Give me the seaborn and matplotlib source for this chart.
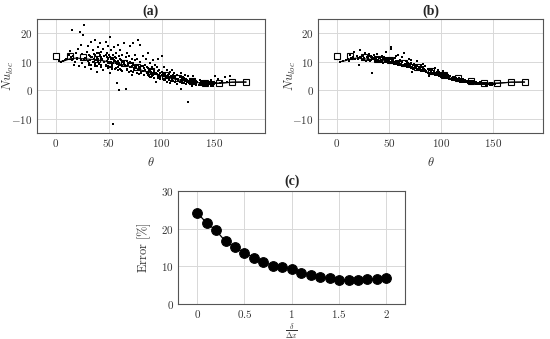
import matplotlib
matplotlib.use("Agg")
import matplotlib.pyplot as plt
import seaborn as sns
import pandas as pd
from matplotlib.ticker import FuncFormatter

# ---- data ----
# panel (a): scattered local Nusselt number
theta_a = [3, 5, 7, 9, 10, 12, 13, 14, 15, 15, 16, 17, 18, 19, 20, 21, 22, 23, 24, 25, 25, 26, 27, 27, 28, 29, 30, 30,
           31, 32, 33, 33, 34, 35, 35, 36, 37, 37, 38, 39, 39, 40, 40, 41, 42, 42, 43, 43, 44, 45, 45, 46, 47, 47, 48,
           48, 49, 49, 50, 50, 51, 51, 52, 52, 53, 53, 54, 54, 55, 55, 56, 56, 57, 57, 58, 58, 59, 59, 60, 60, 60, 61,
           62, 62, 63, 63, 64, 64, 65, 66, 66, 67, 67, 68, 69, 69, 70, 70, 71, 72, 72, 73, 73, 74, 75, 75, 76, 77, 77,
           78, 78, 79, 80, 80, 81, 82, 82, 83, 84, 84, 85, 86, 86, 87, 88, 88, 89, 90, 90, 91, 92, 92, 93, 94, 95, 95,
           96, 97, 97, 98, 99, 100, 100, 101, 102, 102, 103, 104, 105, 105, 106, 107, 108, 108, 109, 110, 110, 111, 112,
           113, 113, 114, 115, 115, 116, 117, 118, 118, 119, 120, 120, 121, 122, 123, 123, 124, 125, 125, 126, 127, 128,
           129, 130, 130, 131, 132, 133, 134, 135, 136, 137, 138, 139, 140, 141, 142, 143, 144, 145, 146, 147, 148, 149,
           150, 151, 152, 153, 155, 157, 160, 162, 165,
           20, 24, 28, 32, 36, 40, 44, 46, 48, 52, 54, 56, 58, 60, 62, 64, 66, 68, 70, 72, 74, 76, 78, 80, 82, 84,
           86, 88, 90, 92, 94, 96, 98, 100, 102, 104, 106, 108, 110, 112, 114, 116, 118, 120, 122, 124, 126, 128,
           130, 132, 134, 136, 138, 140, 142, 144, 146, 148, 150]
nu_a = [10.2, 10, 10.3, 10.5, 11, 12.5, 13.8, 11.5, 21, 10.5, 12, 9, 10, 13, 11.2, 14.5, 8.5, 20.5, 16, 12.8, 9.5, 19.5,
        23, 11, 8, 13.5, 10.2, 15.5, 9, 12, 17, 7.5, 11.5, 14, 9.8, 12.8, 17.5, 8.6, 10.5, 13, 6.5, 15, 11, 9.5, 12.2,
        16.5, 8, 13.5, 10.8, 14.5, 7, 12, 9, 17, 11.5, 13, 8.5, 15.5, 10, 12.5, 18.8, 6, 11, 14, 9, 8, 12.5, -12, 10.5,
        15, 7.5, 11.5, 13, 9.5, 2.5, 10, 16, 8, 0.2, 12, 9, 14, 10.5, 7, 12.5, 8.5, 16.5, 10, 9, 0.5, 11.5, 7.5, 13,
        9.5, 12, 6.5, 10, 15.5, 8, 11, 5.5, 9.5, 16.5, 7, 10.5, 12.5, 8.5, 6, 11, 9, 17.5, 7.5, 16, 10, 6.5, 8.5, 12,
        5.5, 9, 7, 11, 6, 8, 13, 5, 7.5, 9.5, 6.5, 4.5, 8, 10.5, 5.5, 7, 9, 3, 6, 8, 5, 11, 7, 4.5, 6.5, 12, 5.5, 8,
        3.5, 6, 4.5, 7, 3, 5.5, 4, 6.5, 2.5, 5, 3.5, 7, 4.5, 6, 3, 5, 4, 2, 5.5, 3.5, 4.5, 0.5, 6, 3, 4.5, 2.5, 3.5,
        5.5, 2, 4, 3, -4, 5, 2.5, 4, 3, 1.5, 3.5, 5, 2.5, 4, 2, 3, 1.8, 3.5, 2.5, 2, 3.2, 2.2, 1.5, 3, 2.5, 1.8, 2.8,
        2, 3.5, 2.2, 1.6, 2.8, 5, 2.4, 3.8, 2.5, 3, 4.5, 2.8, 5,
        11, 10.5, 11.2, 10.6, 10.9, 10.2, 10.6, 9.8, 10.3, 9.9, 9.4, 10.1, 9.2, 9.6, 8.9, 9.3, 8.5, 8.8, 8.1, 8.4,
        7.7, 7.9, 7.2, 7.4, 6.8, 7.0, 6.4, 6.6, 6.0, 6.2, 5.6, 5.8, 5.3, 5.4, 4.9, 5.0, 4.6, 4.7, 4.2, 4.3, 3.9,
        4.0, 3.6, 3.7, 3.3, 3.4, 3.1, 3.1, 2.9, 2.8, 2.7, 2.6, 2.5, 2.4, 2.3, 2.2, 2.2, 2.1, 2.3]

# extra points filling the dense band (same theta for upper and lower edge)
theta_band = [31, 33, 37, 39, 41, 43, 47, 49, 51, 53, 57, 59, 61, 63, 67, 69, 71, 73, 77, 79, 81, 83, 87, 89, 91, 93,
              97, 99, 101, 103, 107, 109, 111, 113, 117, 119, 121, 123, 127, 129, 131, 133, 137, 139, 141, 143, 147, 149]
nu_a_hi = [12.3, 11.6, 12.4, 11.2, 12.9, 11.5, 12.2, 11.0, 11.8, 10.9, 11.3, 10.4, 10.8, 9.9, 10.1, 9.4, 9.6, 9.0,
           8.9, 8.3, 8.4, 7.9, 7.8, 7.2, 7.3, 6.8, 6.6, 6.1, 6.2, 5.7, 5.6, 5.1, 5.3, 4.8, 4.7, 4.3, 4.4, 4.0, 3.9,
           3.6, 3.7, 3.3, 3.3, 3.0, 3.1, 2.9, 2.9, 2.7]
nu_a_lo = [9.4, 8.9, 9.2, 8.4, 9.3, 8.7, 8.6, 7.9, 8.3, 7.6, 7.8, 7.2, 7.5, 6.9, 7.0, 6.5, 6.8, 6.3, 6.1, 5.7, 5.9,
           5.3, 5.2, 4.8, 4.9, 4.4, 4.3, 4.0, 3.9, 3.6, 3.5, 3.2, 3.1, 2.9, 2.8, 2.6, 2.5, 2.3, 2.2, 2.1, 2.0, 1.9,
           1.8, 1.7, 1.7, 1.6, 1.6, 1.5]

# panel (b): tighter band
theta_b = [3, 6, 9, 11, 13, 14, 16, 17, 18, 19, 20, 21, 22, 23, 24, 25, 26, 27, 28, 29, 30, 31, 32, 33, 34, 35, 36, 37,
           38, 39, 40, 41, 42, 43, 44, 45, 46, 47, 48, 49, 50, 51, 52, 53, 54, 55, 56, 57, 58, 59, 60, 61, 62, 63, 64,
           65, 66, 67, 68, 69, 70, 71, 72, 73, 74, 75, 76, 77, 78, 79, 80, 81, 82, 83, 84, 85, 86, 87, 88, 89, 90, 91,
           92, 93, 94, 95, 96, 97, 98, 99, 100, 101, 102, 103, 104, 105, 106, 107, 108, 109, 110, 111, 112, 113, 114,
           115, 116, 117, 118, 119, 120, 121, 122, 123, 124, 125, 126, 127, 128, 129, 130, 131, 132, 133, 134, 135, 136,
           137, 138, 139, 140, 141, 142, 143, 144, 145, 146, 147, 148, 149, 150, 152,
           12, 15, 20, 22, 26, 30, 34, 34, 38, 42, 46, 48, 50, 52, 52, 54, 56, 58, 60, 62, 64, 66, 68, 70, 72, 74,
           76, 78, 80, 82, 84, 86, 88, 90, 92, 94, 96, 98, 100, 102, 104, 106, 108, 110, 112, 114, 116, 118, 120,
           122, 124, 126, 128, 130, 132, 134, 136, 138, 140, 142, 144, 146, 148,
           25, 35, 45, 55, 65, 75, 85, 95, 105, 115, 44, 57, 63, 71, 83, 97]
nu_b = [10, 10.3, 10.6, 11, 12.5, 11.2, 11.5, 13.5, 10.8, 12, 11.3, 9, 14, 11.8, 10.5, 12.5, 11, 13.2, 10.2, 11.8, 11.4,
        12.6, 10.4, 11.6, 6, 11, 12.2, 10.3, 11.5, 12.8, 10.6, 11.2, 9.8, 12, 10.9, 11.5, 10, 13.5, 10.7, 11.3, 9.6,
        11, 15, 10.2, 10.8, 9.3, 11.4, 10.1, 9.7, 12.2, 9.4, 10.5, 8.8, 9.9, 13, 9.2, 10.1, 8.5, 9.4, 11, 8.9, 9.6,
        6.5, 8.7, 9.3, 7.9, 8.6, 10.4, 7.5, 8.3, 7.8, 9, 7, 8.1, 7.4, 8.4, 6.8, 7.6, 5, 7.1, 6.5, 7.3, 6.2, 6.8, 7.9,
        5.9, 6.4, 5.6, 6.3, 5.3, 6, 5.5, 6.6, 4.9, 5.4, 5.7, 4.6, 5.1, 4.4, 4.9, 4.1, 4.6, 4.3, 3.9, 4.2, 3.6, 4,
        3.5, 3.7, 3.3, 3.6, 3.1, 3.4, 3, 3.2, 2.8, 3.1, 2.9, 2.7, 3, 2.6, 2.8, 2.5, 2.7, 2.4, 2.6, 2.5, 2.3, 2.6, 2.2,
        2.4, 2.5, 2.1, 2.3, 2.4, 2.0, 2.3, 2.2, 1.9, 2.4, 2.1, 2.3,
        10.4, 11.2, 10.9, 11.6, 11.3, 10.8, 11.5, 10.9, 11.1, 10.6, 10.5, 10.2, 10.4, 14.5, 10.0, 10.1, 9.8, 9.6, 9.5,
        9.2, 9.0, 8.8, 8.6, 8.4, 8.1, 7.9, 7.7, 7.4, 7.2, 6.9, 6.7, 6.4, 6.2, 5.9, 5.7, 5.4, 5.2, 5.0, 4.7, 4.5,
        4.3, 4.1, 3.9, 3.7, 3.5, 3.4, 3.2, 3.0, 2.9, 2.8, 2.7, 2.6, 2.5, 2.4, 2.4, 2.3, 2.3, 2.2, 2.2, 2.2, 2.2, 2.2,
        2.3,
        11.9, 11.4, 10.8, 10.0, 9.1, 8.2, 7.0, 6.0, 4.9, 3.9, 9.5, 12.0, 11.5, 10.5, 9.2, 7.2]
nu_b_hi = [12.0, 11.9, 11.8, 11.7, 11.6, 11.5, 11.2, 11.1, 11.0, 10.8, 10.4, 10.2, 10.1, 9.9, 9.5, 9.3, 9.1, 8.9,
           8.5, 8.3, 8.1, 7.9, 7.4, 7.2, 7.0, 6.8, 6.3, 6.1, 5.9, 5.7, 5.2, 5.0, 4.8, 4.6, 4.2, 4.0, 3.8, 3.6, 3.3,
           3.2, 3.1, 2.9, 2.7, 2.6, 2.6, 2.5, 2.5, 2.4]
nu_b_lo = [10.6, 10.5, 10.4, 10.3, 10.2, 10.1, 9.9, 9.8, 9.6, 9.5, 9.1, 8.9, 8.8, 8.6, 8.2, 8.0, 7.8, 7.6, 7.2, 7.0,
           6.8, 6.6, 6.2, 6.0, 5.8, 5.6, 5.2, 5.0, 4.8, 4.6, 4.2, 4.0, 3.8, 3.6, 3.2, 3.1, 3.0, 2.8, 2.6, 2.5, 2.4,
           2.3, 2.1, 2.0, 2.0, 1.9, 1.9, 1.8]

# mean curve and experiment (squares)
theta_line = [3, 8, 13, 20, 26, 35, 45, 55, 65, 75, 85, 95, 105, 115, 125, 135, 145, 155, 167, 180]
nu_line = [10, 10.3, 11, 11.3, 11, 10.8, 10.3, 9.6, 8.8, 7.8, 6.5, 5.5, 4.5, 3.7, 3.0, 2.6, 2.3, 2.5, 2.8, 2.8]
theta_exp = [0, 13, 26, 39, 51, 64, 77, 90, 103, 116, 129, 141, 154, 167, 180]
nu_exp = [12, 12, 11.5, 11, 10.5, 9.5, 8.3, 6.8, 5.3, 4.2, 3.3, 2.6, 2.4, 2.8, 2.9]

# panel (c)
ratio = [0, 0.1, 0.2, 0.3, 0.4, 0.5, 0.6, 0.7, 0.8, 0.9, 1.0, 1.1, 1.2, 1.3, 1.4, 1.5, 1.6, 1.7, 1.8, 1.9, 2.0]
error = [24.2, 21.5, 19.5, 16.6, 15.0, 13.6, 12.3, 11.1, 10.2, 9.8, 9.3, 8.3, 7.7, 7.2, 6.8, 6.5, 6.4, 6.4, 6.6, 6.6, 6.8]

sns.set_style("whitegrid")
plt.rcParams["mathtext.fontset"] = "cm"
plt.rcParams["font.family"] = ["DejaVu Serif"]

fig = plt.figure(figsize=(5.5, 3.39), dpi=100)
ax_a = fig.add_axes([0.067, 0.608, 0.415, 0.336])
ax_b = fig.add_axes([0.578, 0.608, 0.410, 0.336])
ax_c = fig.add_axes([0.324, 0.103, 0.413, 0.334])

math_fmt = FuncFormatter(lambda v, p: "$%g$" % v if v >= 0 else "$-%g$" % abs(v))


def style_ax(ax):
    ax.grid(True, color="#d8d8d8", linewidth=0.7)
    for s in ax.spines.values():
        s.set_color("#555555")
        s.set_linewidth(0.8)
    ax.tick_params(length=0, labelsize=8, pad=3, colors="#333333")
    ax.xaxis.set_major_formatter(math_fmt)
    ax.yaxis.set_major_formatter(math_fmt)


panels = [(ax_a, theta_a, nu_a, nu_a_hi, nu_a_lo, "(a)"),
          (ax_b, theta_b, nu_b, nu_b_hi, nu_b_lo, "(b)")]
for ax, th, nu, hi, lo, lab in panels:
    ax.plot(theta_exp, nu_exp, linestyle="none", marker="s", markersize=4.5,
            markerfacecolor="white", markeredgecolor="black", markeredgewidth=0.8, zorder=2)
    sns.lineplot(x=theta_line, y=nu_line, ax=ax, color="black", linewidth=0.8, zorder=2.5)
    sns.lineplot(x=theta_exp[-4:], y=nu_exp[-4:], ax=ax, color="black", linewidth=0.8, zorder=2.5)
    sc = pd.DataFrame({"theta": th + theta_band + theta_band, "nu": nu + hi + lo})
    sns.scatterplot(data=sc, x="theta", y="nu", ax=ax, s=3.5, color="black", marker="s",
                    linewidth=0, zorder=3)
    ax.set_xlim(-18, 198)
    ax.set_ylim(-15, 25)
    ax.set_xticks([0, 50, 100, 150])
    ax.set_yticks([-10, 0, 10, 20])
    style_ax(ax)
    ax.set_xlabel(r"$\theta$", fontsize=9, color="#333333")
    ax.xaxis.set_label_coords(0.5, -0.2)
    ax.set_ylabel(r"$Nu_{loc}$", fontsize=9, color="#333333")
    ax.yaxis.set_label_coords(-0.09, 0.5)
    ax.set_title(lab, fontsize=10, fontweight="bold", family="Liberation Serif", pad=3)

df_c = pd.DataFrame({"ratio": ratio, "error": error})
sns.lineplot(data=df_c, x="ratio", y="error", ax=ax_c, color="black", linewidth=0.9,
             marker="o", markersize=7, markeredgecolor="black")
ax_c.set_xlim(-0.2, 2.2)
ax_c.set_ylim(0, 30)
ax_c.set_xticks([0, 0.5, 1, 1.5, 2])
ax_c.set_yticks([0, 10, 20, 30])
style_ax(ax_c)
ax_c.set_xlabel(r"$\frac{\delta}{\Delta x}$", fontsize=8, color="#333333")
ax_c.xaxis.set_label_coords(0.5, -0.15)
ax_c.set_ylabel(r"$\mathrm{Error}\ [\%]$", fontsize=9, color="#333333")
ax_c.yaxis.set_label_coords(-0.11, 0.5)
ax_c.set_title("(c)", fontsize=10, fontweight="bold", family="Liberation Serif", pad=4)

fig.savefig("out.png", dpi=100)
